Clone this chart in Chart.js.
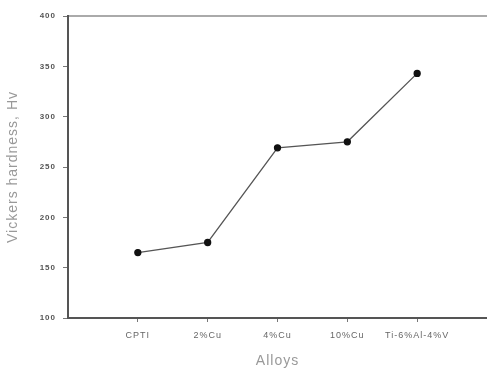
<!DOCTYPE html>
<html>
<head>
<meta charset="utf-8">
<script src="https://cdn.jsdelivr.net/npm/chart.js@4/dist/chart.umd.min.js"></script>
<style>
html,body{margin:0;padding:0;background:#fff;}
#wrap{width:487px;height:372px;}
</style>
</head>
<body>
<div id="wrap"><canvas id="c" width="487" height="372"></canvas></div>
<script>
const categories = ['CPTI', '2%Cu', '4%Cu', '10%Cu', 'Ti-6%Al-4%V'];
const hardness = [165, 175, 269, 275, 343];
const yTicks = [100, 150, 200, 250, 300, 350, 400];

const points = hardness.map((v, i) => ({x: i + 1, y: v}));

const spacing = {
  id: 'spacing',
  beforeDraw(chart) { chart.ctx.letterSpacing = '1px'; },
  beforeDatasetsDraw(chart) { chart.ctx.letterSpacing = '0px'; }
};

new Chart(document.getElementById('c'), {
  type: 'line',
  data: {
    datasets: [{
      data: points,
      borderColor: '#555',
      borderWidth: 1.3,
      pointBackgroundColor: '#111',
      pointBorderColor: '#111',
      pointRadius: 3,
      tension: 0
    }]
  },
  plugins: [spacing],
  options: {
    responsive: false,
    animation: false,
    layout: {autoPadding: false, padding: 0},
    plugins: {legend: {display: false}, tooltip: {enabled: false}},
    scales: {
      x: {
        type: 'linear',
        min: 0, max: 6,
        afterBuildTicks: s => { s.ticks = categories.map((c, i) => ({value: i + 1})); },
        afterFit: s => { s.height = 54; s.paddingLeft = 0; s.paddingRight = 0; },
        ticks: {
          callback: (v) => categories[v - 1] || '',
          color: '#666',
          font: {family: 'Liberation Sans', size: 9},
          padding: 8,
          maxRotation: 0,
          autoSkip: false
        },
        grid: {display: true, drawOnChartArea: false, drawTicks: true, tickLength: 4, color: '#777', lineWidth: 1},
        border: {display: true, color: '#555', width: 2},
        title: {display: true, text: 'Alloys', color: '#999', font: {family: 'Liberation Sans', size: 14}, padding: {top: 0, bottom: 2}}
      },
      x2: {
        type: 'linear',
        position: 'top',
        min: 0, max: 6,
        afterFit: s => { s.height = 16; s.paddingLeft = 0; s.paddingRight = 0; },
        ticks: {display: false},
        grid: {display: false, drawTicks: false},
        border: {display: true, color: '#aaa', width: 2}
      },
      y: {
        type: 'linear',
        min: 100, max: 400,
        afterBuildTicks: s => { s.ticks = yTicks.map(v => ({value: v})); },
        afterFit: s => { s.width = 68; },
        ticks: {
          color: '#555',
          font: {family: 'Liberation Sans', size: 8, weight: 'bold'},
          padding: 7
        },
        grid: {display: true, drawOnChartArea: false, drawTicks: true, tickLength: 5, color: '#777', lineWidth: 1},
        border: {display: true, color: '#555', width: 2},
        title: {display: true, text: 'Vickers hardness, Hv', color: '#999', font: {family: 'Liberation Sans', size: 14}, padding: {top: 5, bottom: 0}}
      }
    }
  }
});
</script>
</body>
</html>
